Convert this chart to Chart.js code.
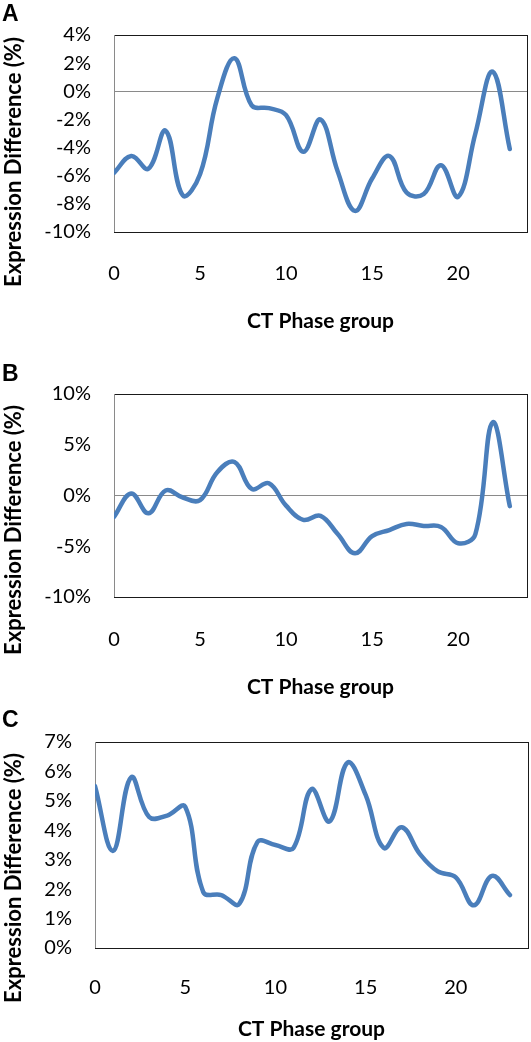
<!DOCTYPE html>
<html>
<head>
<meta charset="utf-8">
<script src="https://cdn.jsdelivr.net/npm/chart.js@4/dist/chart.umd.min.js"></script>
<style>
html,body{margin:0;padding:0;background:#fff;}
body{width:531px;height:1042px;position:relative;overflow:hidden;}
.panel{position:absolute;left:0;width:531px;}
</style>
</head>
<body>
<div class="panel" style="top:0;height:340px"><canvas id="chartA"></canvas></div>
<div class="panel" style="top:340px;height:360px"><canvas id="chartB"></canvas></div>
<div class="panel" style="top:700px;height:342px"><canvas id="chartC"></canvas></div>
<script>
// CT phase groups (x) and expression difference in % for the three panels
const phases = [0,1,2,3,4,5,6,7,8,9,10,11,12,13,14,15,16,17,18,19,20,21,22,23]
const diffA = [-5.8,-4.6,-5.5,-2.8,-7.4,-5.9,-0.5,2.35,-1.0,-1.2,-1.7,-4.3,-2.0,-5.7,-8.5,-6.2,-4.6,-7.2,-7.3,-5.25,-7.5,-3.0,1.4,-4.1]
const diffB = [-2.1,0.2,-1.75,0.5,-0.2,-0.45,2.3,3.3,0.65,1.2,-1.0,-2.4,-2.0,-3.8,-5.7,-4.0,-3.4,-2.8,-3.0,-3.1,-4.7,-3.8,7.2,-1.05]
const diffC = [5.5,3.3,5.8,4.45,4.5,4.8,1.9,1.8,1.5,3.6,3.5,3.4,5.4,4.3,6.3,5.2,3.4,4.1,3.2,2.6,2.4,1.45,2.45,1.8]

const xTitle = 'CT Phase group'
const yTitle = 'Expression Difference (%)'
const tickFont = {family: 'Lato', size: 20}
const titleFont = {family: 'Lato', size: 21, weight: 'bold'}

// frame round the plot area, grey left axis line, panel letter and y title
const panelDeco = {
  id: 'panelDeco',
  beforeDatasetsDraw(chart, args, opts) {
    const a = chart.chartArea
    const ctx = chart.ctx
    ctx.save()
    ctx.lineWidth = 1
    ctx.strokeStyle = '#1a1a1a'
    ctx.strokeRect(Math.round(a.left)+0.5, Math.round(a.top)+0.5, Math.round(a.right-a.left), Math.round(a.bottom-a.top))
    ctx.strokeStyle = '#8a8a8a'
    ctx.beginPath()
    ctx.moveTo(Math.round(a.left)+0.5, Math.round(a.top))
    ctx.lineTo(Math.round(a.left)+0.5, Math.round(a.bottom))
    ctx.stroke()
    ctx.restore()
  },
  afterDraw(chart, args, opts) {
    const ctx = chart.ctx
    ctx.save()
    ctx.fillStyle = '#000'
    ctx.font = 'bold 23px "Liberation Sans", Arial'
    ctx.textBaseline = 'middle'
    ctx.textAlign = 'left'
    ctx.fillText(opts.letter, 2, opts.letterY)
    ctx.translate(14, opts.yTitleY)
    ctx.rotate(-Math.PI/2)
    ctx.font = 'bold 22px Lato'
    ctx.textAlign = 'center'
    ctx.fillText(yTitle, 0, 0)
    ctx.restore()
  }
}

function makePanel(id, letter, values, yMin, yMax, yStep, lay) {
  const points = phases.map((p, i) => ({x: p, y: values[i]}))
  return new Chart(document.getElementById(id), {
    type: 'line',
    data: {
      datasets: [{
        data: points,
        borderColor: '#4a7ebb',
        borderWidth: 4.5,
        borderCapStyle: 'round',
        borderJoinStyle: 'round',
        pointRadius: 0,
        tension: 0.4,
        fill: false
      }]
    },
    options: {
      responsive: true,
      maintainAspectRatio: false,
      animation: false,
      events: [],
      layout: {padding: {top: lay.padTop, right: lay.padRight, left: 0, bottom: 0}},
      plugins: {
        legend: {display: false},
        tooltip: {enabled: false},
        panelDeco: {letter: letter, letterY: lay.letterY, yTitleY: lay.yTitleY}
      },
      scales: {
        x: {
          type: 'linear',
          min: 0,
          max: 24,
          border: {display: false},
          grid: {display: false, drawTicks: false},
          ticks: {stepSize: 5, includeBounds: false, padding: lay.xLabelPad, color: '#000', font: tickFont, maxRotation: 0},
          title: {display: true, text: xTitle, color: '#000', font: titleFont, padding: {top: 0, bottom: lay.xTitlePad}},
          afterFit(s) { s.height = lay.xHeight }
        },
        y: {
          min: yMin,
          max: yMax,
          border: {display: false},
          grid: {
            drawTicks: false,
            color: c => (c.tick && c.tick.value === 0 && yMin < 0) ? '#8a8a8a' : 'rgba(0,0,0,0)',
            lineWidth: 1
          },
          ticks: {stepSize: yStep, padding: lay.yLabelPad, color: '#000', font: tickFont, callback: v => v + '%'},
          afterFit(s) { s.width = lay.yWidth }
        }
      }
    },
    plugins: [panelDeco]
  })
}

makePanel('chartA', 'A', diffA, -10, 4, 2,
  {padTop: 29, padRight: 4, yWidth: 114, xHeight: 108, xLabelPad: 30, xTitlePad: 6, yLabelPad: 23, letterY: 15, yTitleY: 162})
makePanel('chartB', 'B', diffB, -10, 10, 5,
  {padTop: 54, padRight: 4, yWidth: 114, xHeight: 103, xLabelPad: 31, xTitlePad: 0, yLabelPad: 23, letterY: 35, yTitleY: 190})
makePanel('chartC', 'C', diffC, 0, 7, 1,
  {padTop: 42, padRight: 3, yWidth: 95, xHeight: 94, xLabelPad: 28, xTitlePad: 0, yLabelPad: 23, letterY: 21, yTitleY: 178})
</script>
</body>
</html>
